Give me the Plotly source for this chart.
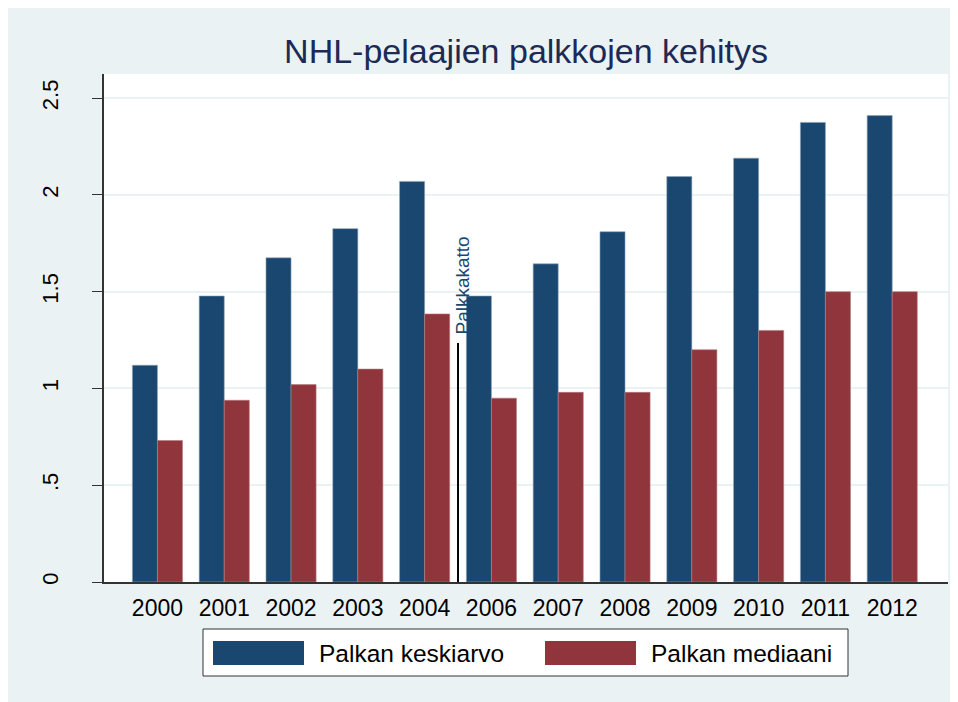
import plotly.graph_objects as go

# data (million USD)
years = ["2000", "2001", "2002", "2003", "2004", "2006",
         "2007", "2008", "2009", "2010", "2011", "2012"]
keskiarvo = [1.12, 1.478, 1.675, 1.826, 2.07, 1.478, 1.644, 1.81, 2.095, 2.19, 2.375, 2.41]
mediaani = [0.731, 0.939, 1.02, 1.10, 1.385, 0.95, 0.98, 0.98, 1.20, 1.30, 1.50, 1.50]
series_names = ["Palkan keskiarvo", "Palkan mediaani"]
series_colors = ["#1a476f", "#90353b"]
y_ticks = [0, 0.5, 1, 1.5, 2, 2.5]
y_ticktext = ["0", ".5", "1", "1.5", "2", "2.5"]

# salary cap marker (between 2004 and 2006)
cap_position = 4.5
cap_height = 1.235
cap_label = "Palkkakatto"

W, H = 950, 694
L, R, T, B = 96, 10, 66, 120
PW, PH = W - L - R, H - T - B
FONT = "Liberation Sans, Arial, sans-serif"
BG = "#eaf2f3"
OFF = 8  # page body margin


def px_x(px):
    return (px - OFF - L) / PW


def px_y(py):
    return (H - B - (py - OFF)) / PH


fig = go.Figure()
for name, vals, col in zip(series_names, [keskiarvo, mediaani], series_colors):
    fig.add_trace(go.Bar(x=years, y=vals, name=name, marker_color=col,
                         marker_line=dict(width=0.6, color="#8fa3b5" if col == "#1a476f" else "#b07a7e")))

fig.add_shape(type="line", x0=cap_position, x1=cap_position, y0=0, y1=cap_height,
              xref="x", yref="y", line=dict(color="black", width=2))
fig.add_annotation(x=cap_position, y=cap_height, xref="x", yref="y", text=cap_label,
                   textangle=-90, showarrow=False, xanchor="center", yanchor="middle",
                   xshift=3.5, yshift=57, font=dict(family=FONT, size=19, color="#1a476f"))

# legend drawn by hand (Stata style)
fig.add_shape(type="rect", xref="paper", yref="paper", x0=px_x(203), x1=px_x(848),
              y0=px_y(676), y1=px_y(629), fillcolor="white", line=dict(color="#333333", width=1))
key_x = [213, 545]
for kx, name, col in zip(key_x, series_names, series_colors):
    fig.add_shape(type="rect", xref="paper", yref="paper", x0=px_x(kx), x1=px_x(kx + 91),
                  y0=px_y(665), y1=px_y(641), fillcolor=col, line_width=0)
    fig.add_annotation(x=px_x(kx + 104), y=px_y(653), xref="paper", yref="paper", text=name,
                       showarrow=False, xanchor="left", yanchor="middle",
                       font=dict(family=FONT, size=24.5, color="black"))

fig.update_layout(
    width=W, height=H,
    margin=dict(l=L, r=R, t=T, b=B),
    paper_bgcolor=BG, plot_bgcolor="white",
    barmode="group", bargap=0.25, bargroupgap=0,
    showlegend=False,
    title=dict(text="NHL-pelaajien palkkojen kehitys", x=0.5, xref="paper",
               xanchor="center", y=1 - 43 / H, yanchor="middle", yref="container",
               font=dict(family=FONT, size=34, color="#1c2a55")),
    font=dict(family=FONT, color="black"),
)
fig.update_xaxes(type="category", range=[-0.8, 11.835], showline=True, linecolor="#333333",
                 linewidth=1.5, ticks="", showgrid=False, ticklabelstandoff=5,
                 tickfont=dict(size=23, color="black"))
fig.update_yaxes(range=[0, 2.625], tickvals=y_ticks, ticktext=y_ticktext, tickangle=-90,
                 showline=True, linecolor="#333333", linewidth=1.5, ticks="outside",
                 ticklen=10, tickcolor="#333333", showgrid=True, gridcolor=BG, gridwidth=1.5,
                 zeroline=False, ticklabelstandoff=25, tickfont=dict(size=22, color="black"))

fig.write_html("out.html")
